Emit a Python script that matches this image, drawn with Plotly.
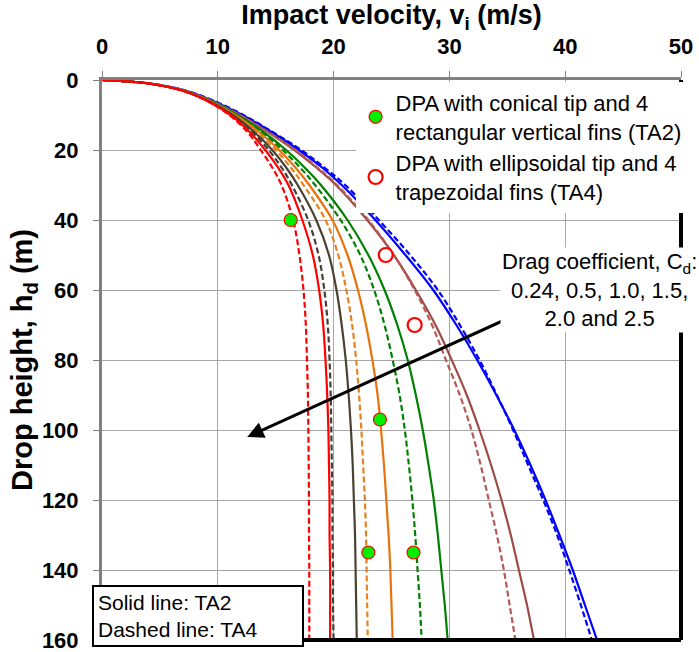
import plotly.graph_objects as go

# Drop heights (m) at which impact velocities were read
heights = [0, 1, 3, 6, 10, 15, 20, 25, 30, 40, 50, 60, 70, 80, 90, 100, 110, 120, 130, 140, 150, 160]

# Impact velocity (m/s), TA2 = solid, TA4 = dashed, per drag coefficient
cd_024_ta2 = [0, 4.1, 7.2, 9.6, 12.1, 14.7, 17.0, 19.0, 20.7, 23.6, 26.2, 28.6, 30.6, 32.4, 34.05, 35.6, 37.0, 38.3, 39.5, 40.65, 41.7, 42.75]
cd_024_ta4 = [0, 4.1, 7.2, 9.7, 12.2, 14.8, 17.2, 19.2, 21.0, 23.9, 26.6, 29.0, 30.9, 32.6, 34.1, 35.5, 36.8, 38.1, 39.3, 40.35, 41.35, 42.3]
cd_05_ta2 = [0, 4.1, 7.1, 9.5, 11.9, 14.4, 16.6, 18.5, 20.2, 22.9, 25.2, 27.1, 28.8, 30.2, 31.5, 32.6, 33.6, 34.5, 35.3, 36.0, 36.7, 37.3]
cd_05_ta4 = [0, 4.1, 7.1, 9.5, 11.9, 14.4, 16.7, 18.6, 20.3, 23.0, 25.2, 27.0, 28.5, 29.7, 30.9, 31.9, 32.7, 33.4, 34.1, 34.7, 35.2, 35.7]
cd_10_ta2 = [0, 4.0, 7.0, 9.4, 11.7, 14.0, 15.9, 17.5, 18.9, 21.2, 23.0, 24.4, 25.5, 26.4, 27.1, 27.7, 28.2, 28.65, 29.0, 29.3, 29.6, 29.85]
cd_10_ta4 = [0, 4.0, 7.0, 9.4, 11.6, 13.8, 15.6, 17.1, 18.4, 20.6, 22.3, 23.5, 24.4, 25.1, 25.7, 26.15, 26.5, 26.8, 27.05, 27.25, 27.45, 27.6]
cd_15_ta2 = [0, 4.0, 7.0, 9.3, 11.5, 13.6, 15.3, 16.7, 17.9, 19.9, 21.2, 22.1, 22.8, 23.35, 23.8, 24.1, 24.35, 24.55, 24.75, 24.9, 25.0, 25.1]
cd_15_ta4 = [0, 4.0, 7.0, 9.3, 11.4, 13.4, 15.0, 16.3, 17.4, 19.3, 20.4, 21.1, 21.6, 21.95, 22.2, 22.4, 22.55, 22.7, 22.8, 22.85, 22.9, 22.95]
cd_20_ta2 = [0, 4.0, 6.9, 9.2, 11.3, 13.2, 14.7, 15.9, 16.9, 18.5, 19.6, 20.25, 20.7, 21.05, 21.3, 21.5, 21.65, 21.75, 21.85, 21.9, 21.95, 22.0]
cd_20_ta4 = [0, 4.0, 6.9, 9.2, 11.2, 13.0, 14.4, 15.5, 16.4, 17.8, 18.7, 19.2, 19.5, 19.65, 19.75, 19.8, 19.85, 19.9, 19.9, 19.95, 19.95, 20.0]
cd_25_ta2 = [0, 4.0, 6.9, 9.1, 11.1, 12.8, 14.1, 15.2, 16.1, 17.3, 18.2, 18.75, 19.1, 19.3, 19.45, 19.55, 19.6, 19.65, 19.65, 19.7, 19.7, 19.7]
cd_25_ta4 = [0, 4.0, 6.9, 9.1, 11.0, 12.6, 13.7, 14.7, 15.5, 16.5, 17.05, 17.4, 17.6, 17.7, 17.78, 17.82, 17.85, 17.87, 17.88, 17.9, 17.9, 17.9]

# Measured points
ta2_v = [16.3, 24.0, 23.0, 26.9]
ta2_h = [40, 97, 135, 135]
ta4_v = [24.5, 27.0]
ta4_h = [50, 70]

curves = [
    (cd_024_ta2, "#0000FF", "solid"), (cd_024_ta4, "#0000FF", "6px,3px"),
    (cd_05_ta2, "#9E4B47", "solid"), (cd_05_ta4, "#B65A55", "6px,3px"),
    (cd_10_ta2, "#008000", "solid"), (cd_10_ta4, "#008000", "6px,3px"),
    (cd_15_ta2, "#E8730C", "solid"), (cd_15_ta4, "#E8821E", "6px,3px"),
    (cd_20_ta2, "#4A4230", "solid"), (cd_20_ta4, "#444038", "6px,3px"),
    (cd_25_ta2, "#FF0000", "solid"), (cd_25_ta4, "#FF0000", "6px,3px"),
]

FONT = "Liberation Sans, Arial, sans-serif"
fig = go.Figure()
for vals, col, dash in curves:
    fig.add_trace(go.Scatter(x=vals, y=heights, mode="lines", showlegend=False,
                             line=dict(color=col, width=2.2, dash=dash, shape="spline", smoothing=1.0),
                             hoverinfo="skip"))

fig.add_trace(go.Scatter(x=ta2_v, y=ta2_h, mode="markers",
                         name="DPA with conical tip and 4<br>rectangular vertical fins (TA2)",
                         marker=dict(size=13, color="#00EE00", line=dict(color="#FF0000", width=1.2))))
fig.add_trace(go.Scatter(x=ta4_v, y=ta4_h, mode="markers",
                         name="DPA with ellipsoidal tip and 4<br>trapezoidal fins (TA4)",
                         marker=dict(size=14, color="white", line=dict(color="#FF0000", width=2.2))))

axis_common = dict(showgrid=True, gridcolor="#A6A6A6", gridwidth=1.3, showline=True,
                   linecolor="#808080", linewidth=3, ticks="outside", ticklen=6,
                   tickcolor="#808080", tickwidth=1.3, zeroline=False,
                   ticklabeloverflow="allow", automargin=False,
                   tickfont=dict(family=FONT, size=22, color="black", weight="bold"))

fig.update_layout(
    width=699, height=652,
    margin=dict(l=102, r=18, t=80, b=12, autoexpand=False),
    paper_bgcolor="white", plot_bgcolor="white",
    font=dict(family=FONT, color="black"),
    xaxis=dict(range=[0, 50], dtick=10, side="top", ticklabelstandoff=8,
               title=dict(text="Impact velocity, v<sub>i</sub> (m/s)", standoff=2,
                          font=dict(family=FONT, size=27, color="black", weight="bold")),
               **axis_common),
    yaxis=dict(range=[160, 0], dtick=20, ticklabelstandoff=10,
               title=dict(text="Drop height, h<sub>d</sub> (m)", standoff=0,
                          font=dict(family=FONT, size=29, color="black", weight="bold")),
               **axis_common),
    legend=dict(x=0.438, y=0.997, xanchor="left", yanchor="top", bgcolor="white",
                borderwidth=0, font=dict(family=FONT, size=22, color="black"),
                tracegroupgap=0, itemwidth=30),
    shapes=[
        dict(type="line", xref="paper", yref="paper", x0=1, x1=1, y0=0, y1=1,
             line=dict(color="black", width=4), layer="above"),
        dict(type="line", xref="paper", yref="paper", x0=0, x1=1, y0=0, y1=0,
             line=dict(color="black", width=4), layer="above"),
    ],
    annotations=[
        dict(x=12.54, y=102, ax=37.8, ay=64, xref="x", yref="y", axref="x", ayref="y",
             text="", showarrow=True, arrowhead=2, arrowsize=1.1, arrowwidth=3, arrowcolor="black"),
        dict(x=43.0, y=60, xref="x", yref="y", showarrow=False,
             text="Drag coefficient, C<sub>d</sub>:<br>0.24, 0.5, 1.0, 1.5,<br>2.0 and 2.5",
             align="center", bgcolor="white", font=dict(family=FONT, size=22, color="black")),
        dict(x=-0.017, y=0.0985, xref="paper", yref="paper", xanchor="left", yanchor="top",
             showarrow=False, text="Solid line: TA2<br>Dashed line: TA4", align="left",
             width=200, borderpad=4, bordercolor="black", borderwidth=2, bgcolor="white",
             font=dict(family=FONT, size=21, color="black")),
    ],
)

fig.write_html("out.html")
